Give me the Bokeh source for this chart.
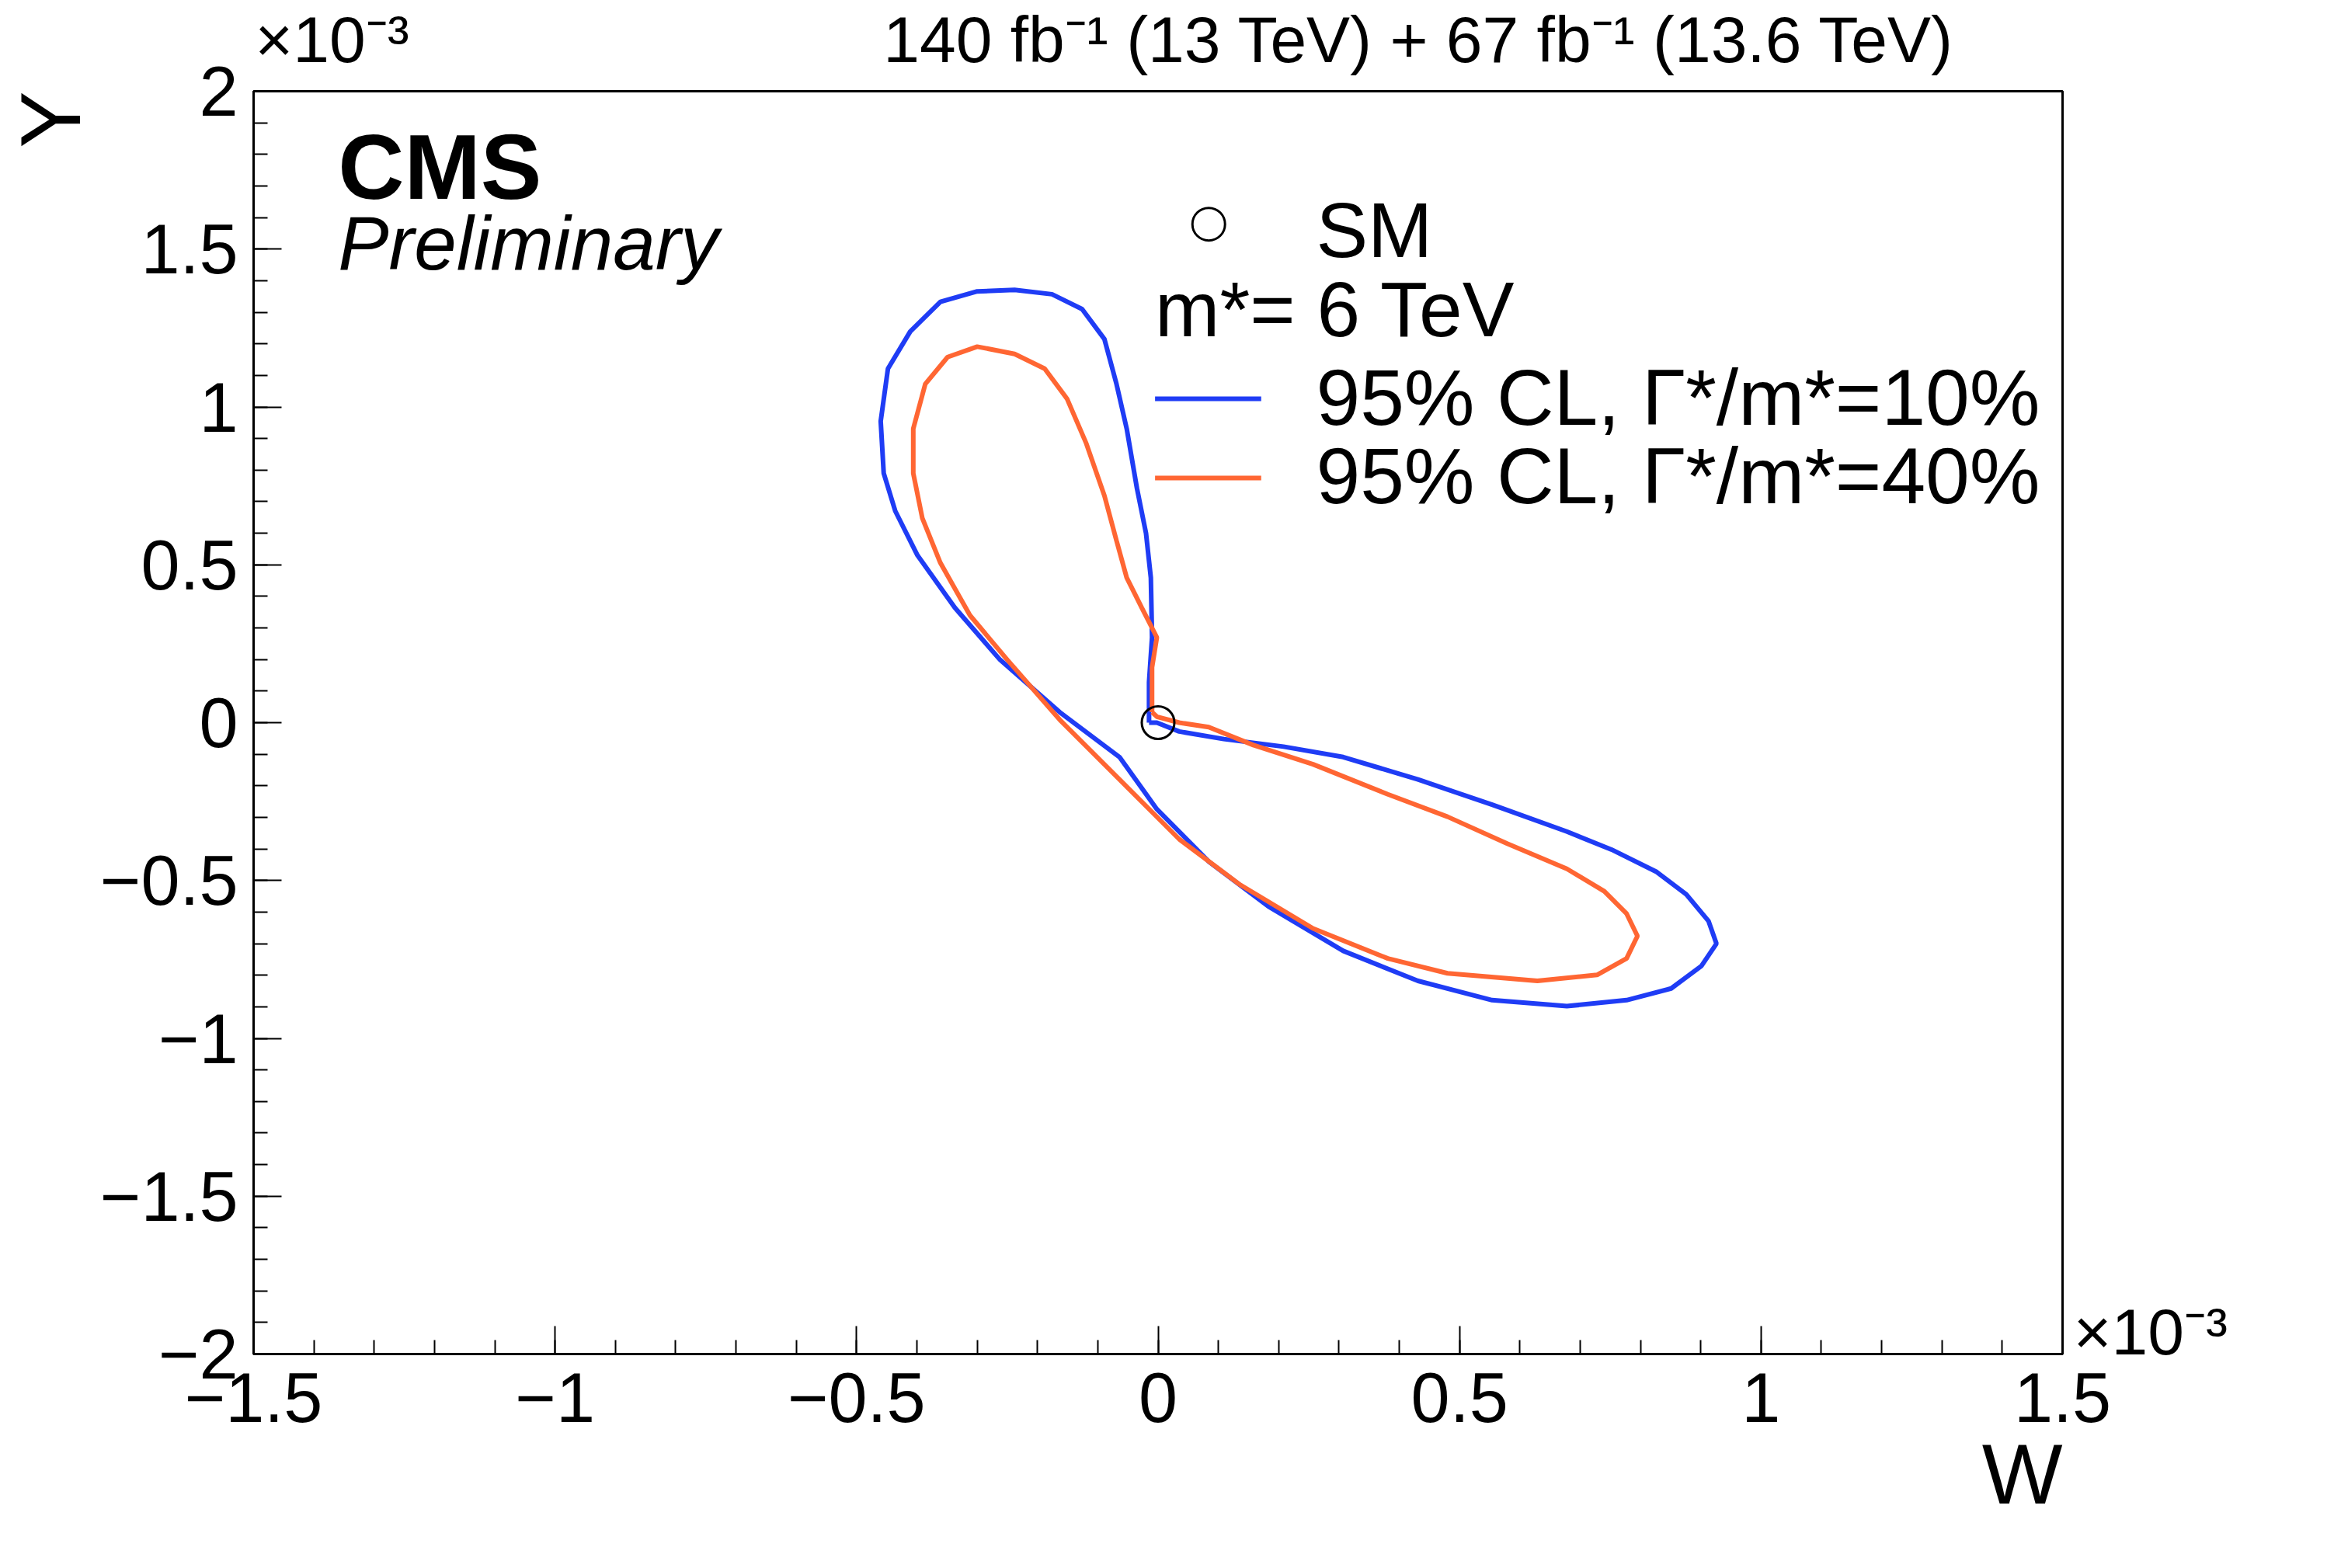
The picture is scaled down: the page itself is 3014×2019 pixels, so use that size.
import numpy as np
from bokeh.plotting import figure
from bokeh.models import Range1d, FixedTicker, Label, LinearAxis, Title
from bokeh.embed import file_html
from bokeh.resources import INLINE

# values in units of 1e-3
blue_w = [-0.015,-0.015,-0.010,-0.012,-0.020,-0.035,-0.052,-0.069,-0.089,-0.126,-0.176,-0.238,-0.300,-0.361,-0.411,-0.448,-0.460,-0.455,-0.436,-0.399,-0.337,-0.262,-0.163,-0.064,-0.002,0.084,0.183,0.307,0.431,0.554,0.678,0.777,0.851,0.901,0.926,0.913,0.876,0.827,0.752,0.678,0.554,0.431,0.307,0.208,0.109,0.035,-0.002,-0.015]
blue_y = [0,0.128,0.270,0.459,0.600,0.742,0.931,1.073,1.215,1.310,1.357,1.371,1.366,1.333,1.239,1.121,0.955,0.790,0.671,0.530,0.364,0.199,0.033,-0.109,-0.274,-0.440,-0.582,-0.723,-0.818,-0.879,-0.898,-0.879,-0.842,-0.771,-0.700,-0.629,-0.544,-0.473,-0.402,-0.345,-0.260,-0.180,-0.109,-0.076,-0.052,-0.028,0,0]
orange_w = [-0.010,-0.010,-0.002,-0.027,-0.052,-0.069,-0.089,-0.119,-0.151,-0.188,-0.238,-0.300,-0.349,-0.386,-0.406,-0.406,-0.391,-0.361,-0.312,-0.250,-0.163,-0.064,0.035,0.134,0.257,0.381,0.480,0.629,0.728,0.777,0.795,0.777,0.740,0.678,0.579,0.480,0.381,0.257,0.158,0.084,0.035,-0.002,-0.010]
orange_y = [0.033,0.175,0.270,0.364,0.459,0.577,0.719,0.884,1.026,1.121,1.168,1.191,1.158,1.073,0.931,0.790,0.648,0.506,0.340,0.199,0.009,-0.180,-0.369,-0.511,-0.652,-0.747,-0.794,-0.818,-0.799,-0.747,-0.676,-0.605,-0.534,-0.463,-0.383,-0.298,-0.227,-0.132,-0.071,-0.014,0,0.019,0.033]
sm_w = [0.0]
sm_y = [0.0]
x_ticks = [-1.5,-1,-0.5,0,0.5,1,1.5]
y_ticks = [-2,-1.5,-1,-0.5,0,0.5,1,1.5,2]
lumi_text = "140 fb\u207b\u00b9 (13 TeV) + 67 fb\u207b\u00b9 (13.6 TeV)"
exp_text = "\u00d710\u207b\u00b3"

FONT = "Liberation Sans"
p = figure(frame_width=2329, frame_height=1626, output_backend="svg", toolbar_location=None,
           x_range=Range1d(-1.5, 1.5), y_range=Range1d(-2, 2),
           min_border_left=10, min_border_right=10, min_border_top=10, min_border_bottom=10)
p.background_fill_color = "white"
p.grid.visible = False
p.outline_line_color = "black"
p.outline_line_width = 3

def fmt(v):
    return ("%g" % v).replace("-", "\u2212")

minor_x = [round(-1.5 + 0.1*i, 2) for i in range(31)]
minor_y = [round(-2 + 0.1*i, 2) for i in range(41)]
p.xaxis.ticker = FixedTicker(ticks=x_ticks, minor_ticks=minor_x)
p.yaxis.ticker = FixedTicker(ticks=y_ticks, minor_ticks=minor_y)
p.xaxis.major_label_overrides = {v: fmt(v) for v in x_ticks}
p.yaxis.major_label_overrides = {v: fmt(v) for v in y_ticks}
for ax in (p.xaxis[0], p.yaxis[0]):
    ax.major_label_text_font = FONT
    ax.major_label_text_font_size = "90px"
    ax.major_label_text_color = "black"
    ax.major_tick_in = 36
    ax.major_tick_out = 0
    ax.minor_tick_in = 18
    ax.minor_tick_out = 0
    ax.major_tick_line_width = 2
    ax.minor_tick_line_width = 2
    ax.axis_line_width = 3
p.xaxis[0].major_label_standoff = 24
p.yaxis[0].major_label_standoff = 20

# top annotation axis: exponent label and luminosity text
top = LinearAxis(ticker=FixedTicker(ticks=[-1.37, 0.433], minor_ticks=[]),
                 major_label_overrides={-1.37: exp_text, 0.433: lumi_text},
                 major_label_text_font=FONT, major_label_text_font_size="84px",
                 major_label_text_color="black", axis_line_color=None,
                 major_tick_line_color=None, major_label_standoff=14)
p.add_layout(top, "above")
# right annotation axis: exponent of x
right = LinearAxis(ticker=FixedTicker(ticks=[-1.93], minor_ticks=[]),
                   major_label_overrides={-1.93: exp_text},
                   major_label_text_font=FONT, major_label_text_font_size="84px",
                   major_label_text_color="black", axis_line_color=None,
                   major_tick_line_color=None, major_label_standoff=8)
p.add_layout(right, "right")

p.add_layout(Title(text="W", align="right", text_font=FONT, text_font_size="110px",
                   text_font_style="normal", text_color="black", standoff=0), "below")
p.add_layout(Title(text="Y", align="right", text_font=FONT, text_font_size="110px",
                   text_font_style="normal", text_color="black", standoff=0), "left")

p.line(blue_w, blue_y, line_color="#1f3cf5", line_width=6)
p.line(orange_w, orange_y, line_color="#ff6633", line_width=6)
p.scatter(sm_w, sm_y, marker="circle", size=42, fill_color=None, line_color="black", line_width=3)

def lab(x, y, t, size, style="normal"):
    p.add_layout(Label(x=x, y=y, text=t, text_font=FONT, text_font_size=size,
                       text_font_style=style, text_align="left", text_baseline="middle",
                       text_color="black"))

lab(-1.36, 1.76, "CMS", "118px", style="bold")
lab(-1.36, 1.52, "Preliminary", "98px", style="italic")

# legend
p.scatter([0.084], [1.579], marker="circle", size=42, fill_color=None, line_color="black", line_width=3)
lab(0.262, 1.56, "SM", "100px")
lab(-0.005, 1.31, "m*= 6 TeV", "100px")
p.line([-0.005, 0.171], [1.026, 1.026], line_color="#1f3cf5", line_width=6)
lab(0.262, 1.03, "95% CL, \u0393*/m*=10%", "102px")
p.line([-0.005, 0.171], [0.775, 0.775], line_color="#ff6633", line_width=6)
lab(0.262, 0.78, "95% CL, \u0393*/m*=40%", "102px")

open("out.html", "w").write(file_html(p, INLINE))
